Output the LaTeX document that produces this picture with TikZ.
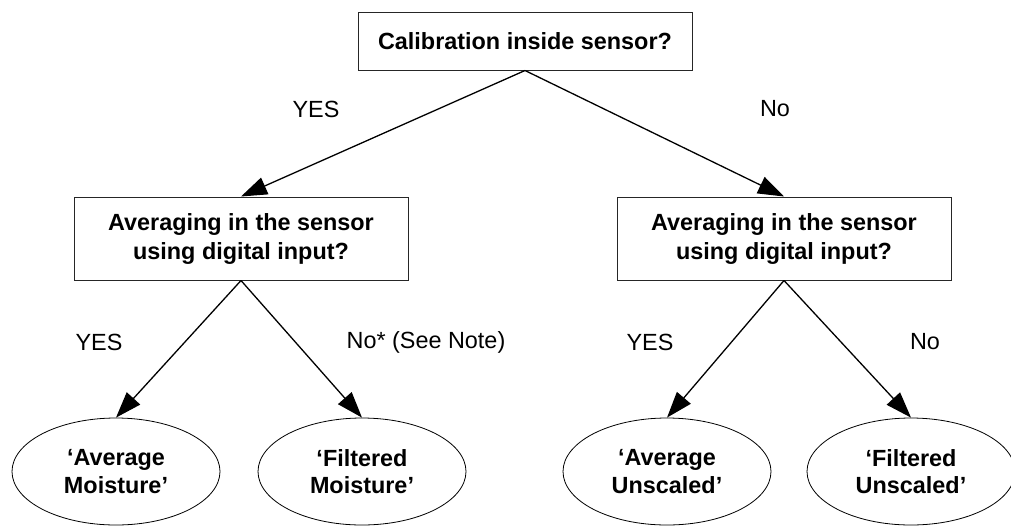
\documentclass[tikz,border=0pt]{standalone}
\usepackage{fontspec}
\setmainfont{Liberation Sans}
\usetikzlibrary{arrows.meta,shapes.geometric}
\begin{document}
\begin{tikzpicture}[x=1pt,y=-1pt,
  qbox/.style={draw=black!85,line width=1pt,rectangle,inner sep=0pt,minimum width=334pt,align=center,font=\fontsize{23.4}{29}\selectfont\bfseries},
  leaf/.style={draw=black,line width=0.8pt,ellipse,inner sep=0pt,minimum width=208pt,minimum height=107pt,align=center,font=\fontsize{23.4}{27.5}\selectfont\bfseries},
  arr/.style={line width=1.3pt,-{Triangle[length=26pt,width=18pt]}},
  lbl/.style={font=\fontsize{23.4}{28}\selectfont,inner sep=0pt}]
\fill[white] (0,0) rectangle (1011,525);
\useasboundingbox (0,0) rectangle (1011,525);
\clip (0,0) rectangle (1011,525);
\node[qbox,minimum height=58pt] (top) at (525,41) {Calibration inside sensor?};
\node[qbox,minimum height=83pt] (lb) at (241,238.5) {Averaging in the sensor\\using digital input?};
\node[qbox,minimum height=83pt] (rb) at (784,238.5) {Averaging in the sensor\\using digital input?};
\node[leaf] (e1) at (116,471.5) {‘Average\\Moisture’};
\node[leaf] (e2) at (362,471.5) {‘Filtered\\Moisture’};
\node[leaf] (e3) at (667,471.5) {‘Average\\Unscaled’};
\node[leaf] (e4) at (911,471.5) {‘Filtered\\Unscaled’};
\draw[arr] (top.south) -- (lb.north);
\draw[arr] (top.south) -- (rb.north);
\draw[arr] (lb.south) -- (e1.north);
\draw[arr] (lb.south) -- (e2.north);
\draw[arr] (rb.south) -- (e3.north);
\draw[arr] (rb.south) -- (e4.north);
\node[lbl] (l1) at (316,109) {YES};
\node[lbl] (l2) at (775,109) {No};
\node[lbl] (l3) at (99,342) {YES};
\node[lbl] (l4) at (426,342) {No* (See Note)};
\node[lbl] (l5) at (650,342) {YES};
\node[lbl] (l6) at (925,342) {No};
\end{tikzpicture}
\end{document}
